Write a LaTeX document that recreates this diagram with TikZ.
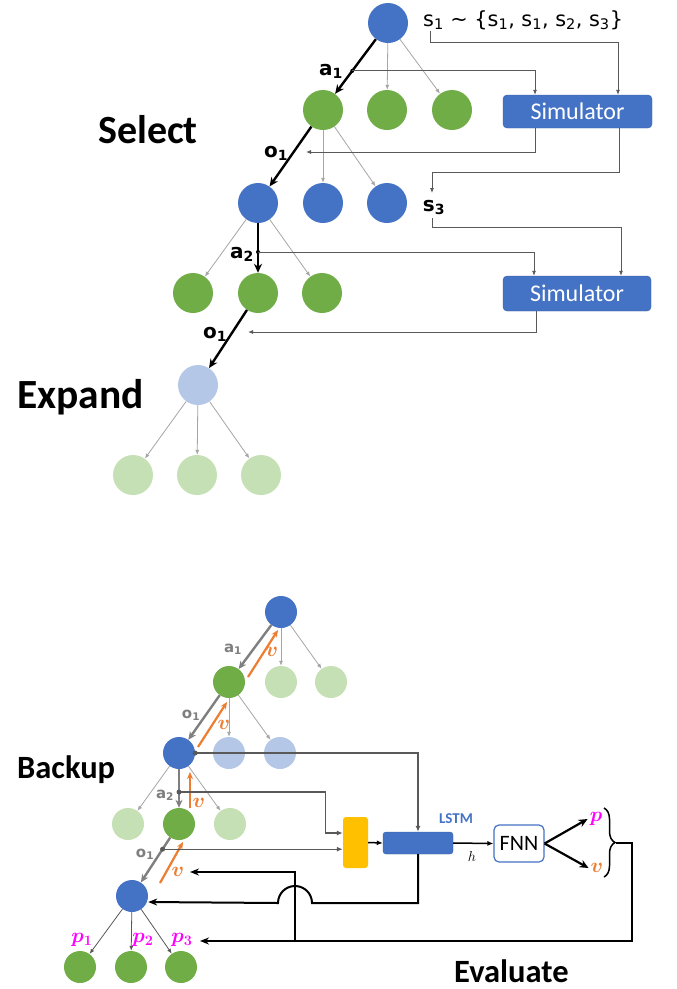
\documentclass[tikz,border=0pt]{standalone}
\usepackage{fontspec}
\usepackage{amsmath}
\setmainfont{Carlito}
\newfontfamily\dvs{DejaVu Sans}
\usetikzlibrary{arrows.meta,calc,decorations.pathreplacing}
\definecolor{cblue}{HTML}{4472C4}
\definecolor{cgreen}{HTML}{70AD47}
\definecolor{clblue}{HTML}{B4C7E7}
\definecolor{clgreen}{HTML}{C5E0B4}
\definecolor{corange}{HTML}{ED7D31}
\definecolor{cmag}{HTML}{FF00FF}
\definecolor{cgray}{HTML}{7F7F7F}
\definecolor{cdgray}{HTML}{595959}
\definecolor{cyellow}{HTML}{FFC000}
\begin{document}
\begin{tikzpicture}[x=1pt,y=-1pt,
  big/.style={circle,inner sep=0pt,minimum size=40pt},
  sml/.style={circle,inner sep=0pt,minimum size=32pt},
  nB/.style={fill=cblue}, nG/.style={fill=cgreen},
  nLB/.style={fill=clblue}, nLG/.style={fill=clgreen},
  garrow/.style={draw=black!35,line width=0.8pt,-{Latex[length=5pt,width=4pt]}},
  darrow/.style={draw=cdgray,line width=0.8pt,-{Latex[length=5pt,width=4pt]}},
  barrow/.style={draw=black,line width=2.4pt,-{Stealth[length=9pt,width=8pt]}},
  gbarrow/.style={draw=cgray,line width=2.4pt,-{Stealth[length=8pt,width=7pt]}},
  oarrow/.style={draw=corange,line width=2.2pt,-{Stealth[length=7pt,width=6pt]}},
  conn/.style={draw=cdgray,line width=0.8pt,-{Latex[length=5pt,width=4pt]}},
  conn2/.style={draw=cdgray,line width=1.3pt,-{Latex[length=6pt,width=5pt]}},
  fb/.style={draw=black,line width=2pt,-{Stealth[length=9pt,width=7pt]}},
  sim/.style={fill=cblue,draw=cblue!85!black,rounded corners=4pt,text=white,
    font=\fontsize{24}{24}\selectfont,inner sep=0pt},
  title/.style={font=\bfseries\fontsize{40}{40}\selectfont,inner sep=0pt,anchor=base west},
  stitle/.style={font=\bfseries\fontsize{32.5}{32.5}\selectfont,inner sep=0pt,anchor=base west},
  tl/.style={font=\dvs\bfseries\fontsize{20}{20}\selectfont,inner sep=0pt,anchor=base},
  bl/.style={font=\dvs\bfseries\fontsize{15}{15}\selectfont,text=cgray,inner sep=0pt,anchor=base},
  vl/.style={font=\fontsize{20}{20}\selectfont,text=corange,inner sep=0pt},
  pl/.style={font=\fontsize{20}{20}\selectfont,text=cmag,inner sep=0pt},
  dot/.style={circle,fill=#1,inner sep=0pt,minimum size=5pt}
]
\fill[white] (0,0) rectangle (677,989);
\useasboundingbox (0,0) rectangle (677,989);

% ---------------- titles
\node[title] (tSelect) at (98,143) {Select};
\node[title,font=\bfseries\fontsize{41.5}{41.5}\selectfont] (tExpand) at (17,408) {Expand};
\node[stitle] (tBackup) at (17,778) {Backup};
\node[stitle] (tEval) at (454,982) {Evaluate};

% ---------------- top tree
\node[big,nB] (r) at (388,23) {};
\node[big,nG] (g1) at (323,110) {};
\node[big,nG] (g2) at (387,110) {};
\node[big,nG] (g3) at (452,110) {};
\node[big,nB] (b1) at (258,203) {};
\node[big,nB] (b2) at (323,203) {};
\node[big,nB] (b3) at (387,203) {};
\node[big,nG] (c1) at (193,293) {};
\node[big,nG] (c2) at (258,293) {};
\node[big,nG] (c3) at (322,293) {};
\node[big,nLB] (e) at (198,385) {};
\node[big,nLG] (e1) at (133,475) {};
\node[big,nLG] (e2) at (197,475) {};
\node[big,nLG] (e3) at (261,475) {};

\draw[barrow] (r) -- (g1);
\draw[garrow] (r) -- (g2);
\draw[garrow] (r) -- (g3);
\draw[barrow] (g1) -- (b1);
\draw[garrow] (g1) -- (b2);
\draw[garrow] (g1) -- (b3);
\draw[garrow] (b1) -- (c1);
\draw[barrow] (b1) -- (c2);
\draw[garrow] (b1) -- (c3);
\draw[barrow] (c2) -- (e);
\draw[garrow] (e) -- (e1);
\draw[garrow] (e) -- (e2);
\draw[garrow] (e) -- (e3);

\node[sim,minimum width=149pt,minimum height=33pt] (sim1) at (577.5,111.5) {Simulator};
\node[sim,minimum width=148pt,minimum height=35pt] (sim2) at (577,293.5) {Simulator};

\node[anchor=base west,inner sep=0pt,font=\dvs\fontsize{20.8}{20.8}\selectfont] (stext) at (423,26)
  {s\textsubscript{1} ∼ \{s\textsubscript{1}, s\textsubscript{1}, s\textsubscript{2}, s\textsubscript{3}\}};
\coordinate (s1a) at (430,31);
\draw[conn] (s1a) -- ++(0,11) -| ([xshift=40.5pt]sim1.north);

\coordinate (d1) at ($(r)!0.55!(g1)$);
\node[dot=black,minimum size=4pt] (d1n) at (d1) {};
\draw[conn] (d1) -| ([xshift=-42.5pt]sim1.north);
\node[tl] (la1) at (331,75) {a\textsubscript{1}};

\coordinate (o1t) at (306,152);
\draw[conn] ([xshift=-42.5pt]sim1.south) |- (o1t);
\node[tl] (lo1) at (276,157) {o\textsubscript{1}};

\node[tl] (s3) at (434,211) {s\textsubscript{3}};
\coordinate (s3in) at (432,193);
\draw[conn] ([xshift=41.5pt]sim1.south) -- ++(0,44) -| (s3in);
\coordinate (s3b) at (432,218);
\draw[conn] (s3b) -- ++(0,9) -| ([xshift=44pt]sim2.north);

\coordinate (d2) at ($(b1)!0.544!(c2)$);
\node[dot=black,minimum size=4pt] (d2n) at (d2) {};
\draw[conn] (d2) -| ([xshift=-43pt]sim2.north);
\node[tl] (la2) at (242,258) {a\textsubscript{2}};

\coordinate (o1u) at (248,332);
\draw[conn] ([xshift=-41pt]sim2.south) |- (o1u);
\node[tl] (lo1b) at (215,338) {o\textsubscript{1}};

% ---------------- bottom tree
\node[sml,nB] (R) at (281,612) {};
\node[sml,nG] (G) at (229,682) {};
\node[sml,nLG] (LG1) at (281,682) {};
\node[sml,nLG] (LG2) at (331,682) {};
\node[sml,nB] (Bn) at (179,753) {};
\node[sml,nLB] (LB1) at (229,753) {};
\node[sml,nLB] (LB2) at (280,753) {};
\node[sml,nLG] (LC1) at (128,824) {};
\node[sml,nG] (C) at (179,824) {};
\node[sml,nLG] (LC2) at (230,824) {};
\node[sml,nB] (BB) at (132,896) {};
\node[sml,nG] (P1) at (80,967) {};
\node[sml,nG] (P2) at (131,967) {};
\node[sml,nG] (P3) at (181,967) {};

\draw[gbarrow] (R) -- (G);
\draw[garrow] (R) -- (LG1);
\draw[garrow] (R) -- (LG2);
\draw[gbarrow] (G) -- (Bn);
\draw[garrow] (G) -- (LB1);
\draw[garrow] (G) -- (LB2);
\draw[gbarrow] (Bn) -- (C);
\draw[garrow] (Bn) -- (LC1);
\draw[garrow] (Bn) -- (LC2);
\draw[gbarrow] (C) -- (BB);
\draw[darrow] (BB) -- (P1);
\draw[darrow] (BB) -- (P2);
\draw[darrow] (BB) -- (P3);

\node[bl] (ba1) at (233,652) {a\textsubscript{1}};
\node[bl] (bo1) at (191,718) {o\textsubscript{1}};
\node[bl] (ba2) at (165,798) {a\textsubscript{2}};
\node[bl] (bo1b) at (145,857) {o\textsubscript{1}};

% orange backup arrows
\coordinate (os1) at (248,677); \coordinate (oe1) at (278,630);
\coordinate (os2) at (198,747); \coordinate (oe2) at (227,702);
\coordinate (os3) at (190,808); \coordinate (oe3) at (190,772);
\coordinate (os4) at (160,883); \coordinate (oe4) at (183,842);
\draw[oarrow] (os1) -- (oe1);
\draw[oarrow] (os2) -- (oe2);
\draw[oarrow] (os3) -- (oe3);
\draw[oarrow] (os4) -- (oe4);
\node[vl] (v1) at (272,652) {$\boldsymbol{v}$};
\node[vl] (v2) at (224,725) {$\boldsymbol{v}$};
\node[vl] (v3) at (199,803) {$\boldsymbol{v}$};
\node[vl] (v4) at (178,872) {$\boldsymbol{v}$};

\node[pl] (p1) at (82,940) {$\boldsymbol{p_1}$};
\node[pl] (p2) at (143,940) {$\boldsymbol{p_2}$};
\node[pl] (p3) at (182,940) {$\boldsymbol{p_3}$};

% ---------------- evaluate network
\node[fill=cyellow,rounded corners=3pt,minimum width=25pt,minimum height=51pt,inner sep=0pt] (Y) at (355.5,842.5) {};
\node[fill=cblue,draw=cblue!85!black,rounded corners=3pt,minimum width=70pt,minimum height=22pt,inner sep=0pt] (L) at (418,843) {};
\node[font=\bfseries\fontsize{15}{15}\selectfont,text=cblue,inner sep=0pt] (Llab) at (456,819) {LSTM};
\node[draw=cblue,line width=1.2pt,rounded corners=5pt,minimum width=50pt,minimum height=37pt,
  fill=white,inner sep=0pt,font=\fontsize{22}{22}\selectfont] (F) at (519,843.5) {FNN};

\node[dot=cdgray] (d3) at (Bn.east) {};
\draw[draw=cdgray,line width=2pt,-{Latex[length=6pt,width=5pt]}] (d3.center) -| (L.north);

\coordinate (d4) at ($(Bn)!0.55!(C)$);
\node[dot=cdgray] (d4n) at (d4) {};
\coordinate (yin1) at ([yshift=9.5pt]Y.west);
\draw[conn2] (d4) -| ($(yin1)+(-17,0)$) -- (yin1);

\coordinate (d5) at ($(C)!0.35!(BB)$);
\node[dot=cdgray] (d5n) at (d5) {};
\draw[conn2] (d5) -- (d5 -| Y.west);

\draw[draw=black,line width=1.5pt,-{Latex[length=6pt,width=5pt]}] (Y.east) -- (L.west);
\draw[draw=black,line width=1.5pt,-{Latex[length=6pt,width=5pt]}] (L.east) -- (F.west);
\node[font=\fontsize{15}{15}\selectfont,inner sep=0pt] (hl) at (472,856) {$h$};

\node[font=\fontsize{20}{20}\selectfont,text=cmag,inner sep=2pt] (pp) at (596,819) {$\boldsymbol{p}$};
\node[font=\fontsize{20}{20}\selectfont,text=corange,inner sep=2pt] (vv) at (597,868) {$\boldsymbol{v}$};
\draw[barrow,line width=2.2pt] (F.east) -- (pp.west);
\draw[barrow,line width=2.2pt] (F.east) -- (vv.west);

\draw[decorate,decoration={brace,amplitude=11pt},line width=1.5pt] (604,808) -- (604,877);
\coordinate (bt) at (616,842.5);
\coordinate (fbc) at (632,941);
\coordinate (fbt) at (200,941);
\draw[fb] (bt) -| (fbc) -- (fbt);
\coordinate (br) at (295,941);
\coordinate (vt2) at (190,872);
\draw[fb] (br) |- (vt2);
\coordinate (hopR) at (312,903);
\draw[fb] (L.south) |- (hopR) arc[start angle=0,end angle=180,radius=17pt] -- ([yshift=-6pt]BB.east);
\end{tikzpicture}
\end{document}
